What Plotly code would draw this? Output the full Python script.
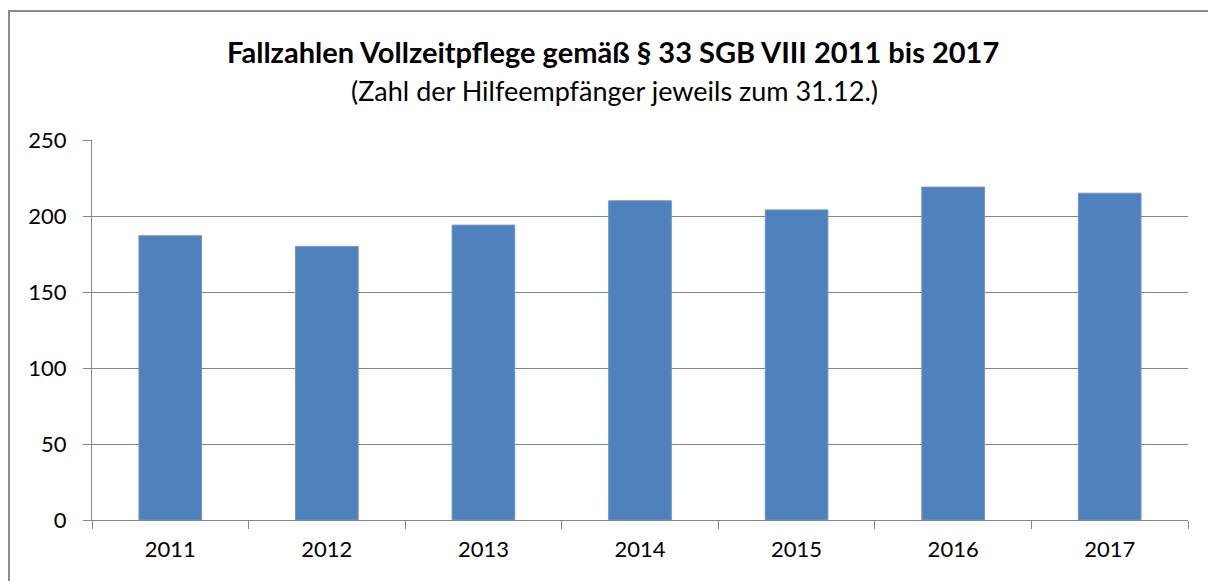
import plotly.graph_objects as go

# Fallzahlen Vollzeitpflege (§ 33 SGB VIII), Stand jeweils 31.12.
years = ["2011", "2012", "2013", "2014", "2015", "2016", "2017"]
cases = [187, 180, 194, 210, 204, 219, 215]
y_ticks = [0, 50, 100, 150, 200, 250]

title_text = "Fallzahlen Vollzeitpflege gemäß § 33 SGB VIII 2011 bis 2017"
subtitle_text = "(Zahl der Hilfeempfänger jeweils zum 31.12.)"

W, H = 1208, 581
ML, MR, MT, MB = 92, 20, 140, 61
plot_w = W - ML - MR
plot_h = H - MT - MB


def px_to_paper_x(px):
    return (px - ML) / plot_w


def px_to_paper_y(py):
    return (H - MB - py) / plot_h


grey = "#868686"
font_family = "Lato, 'Open Sans', sans-serif"

fig = go.Figure(
    go.Bar(
        x=years,
        y=cases,
        marker=dict(color="#4F81BD", line=dict(color="#6B96C9", width=1)),
        width=0.4,
        hoverinfo="x+y",
    )
)

fig.update_layout(
    width=W,
    height=H,
    margin=dict(l=ML, r=MR, t=MT, b=MB, pad=0),
    paper_bgcolor="white",
    plot_bgcolor="white",
    showlegend=False,
    font=dict(family=font_family, color="#000000", size=22),
    bargap=0.6,
)

fig.update_xaxes(
    type="category",
    showline=True,
    linecolor=grey,
    linewidth=1,
    ticks="outside",
    tickson="boundaries",
    ticklen=8,
    tickcolor=grey,
    tickwidth=1,
    showgrid=False,
    tickfont=dict(size=22),
    ticklabelstandoff=10,
)

fig.update_yaxes(
    range=[0, 250],
    tickvals=y_ticks,
    showline=True,
    linecolor=grey,
    linewidth=1,
    ticks="outside",
    ticklen=8,
    tickcolor=grey,
    tickwidth=1,
    showgrid=True,
    gridcolor=grey,
    gridwidth=1,
    zeroline=False,
    tickfont=dict(size=22),
    ticklabelstandoff=12,
)

fig.add_annotation(
    text="<b>" + title_text + "</b>",
    xref="paper", yref="paper",
    x=px_to_paper_x(W / 2 + 9), y=px_to_paper_y(52),
    xanchor="center", yanchor="middle",
    showarrow=False,
    font=dict(size=29, family=font_family),
)
fig.add_annotation(
    text=subtitle_text,
    xref="paper", yref="paper",
    x=px_to_paper_x(W / 2 + 10), y=px_to_paper_y(91),
    xanchor="center", yanchor="middle",
    showarrow=False,
    font=dict(size=27, family=font_family),
)

# outer frame of the chart (top and left edges visible)
fig.add_shape(
    type="rect",
    xref="paper", yref="paper",
    x0=px_to_paper_x(9), x1=px_to_paper_x(W + 20),
    y0=px_to_paper_y(H + 20), y1=px_to_paper_y(11),
    line=dict(color="#898989", width=2),
    fillcolor="rgba(0,0,0,0)",
    layer="above",
)

fig.write_html("out.html")
